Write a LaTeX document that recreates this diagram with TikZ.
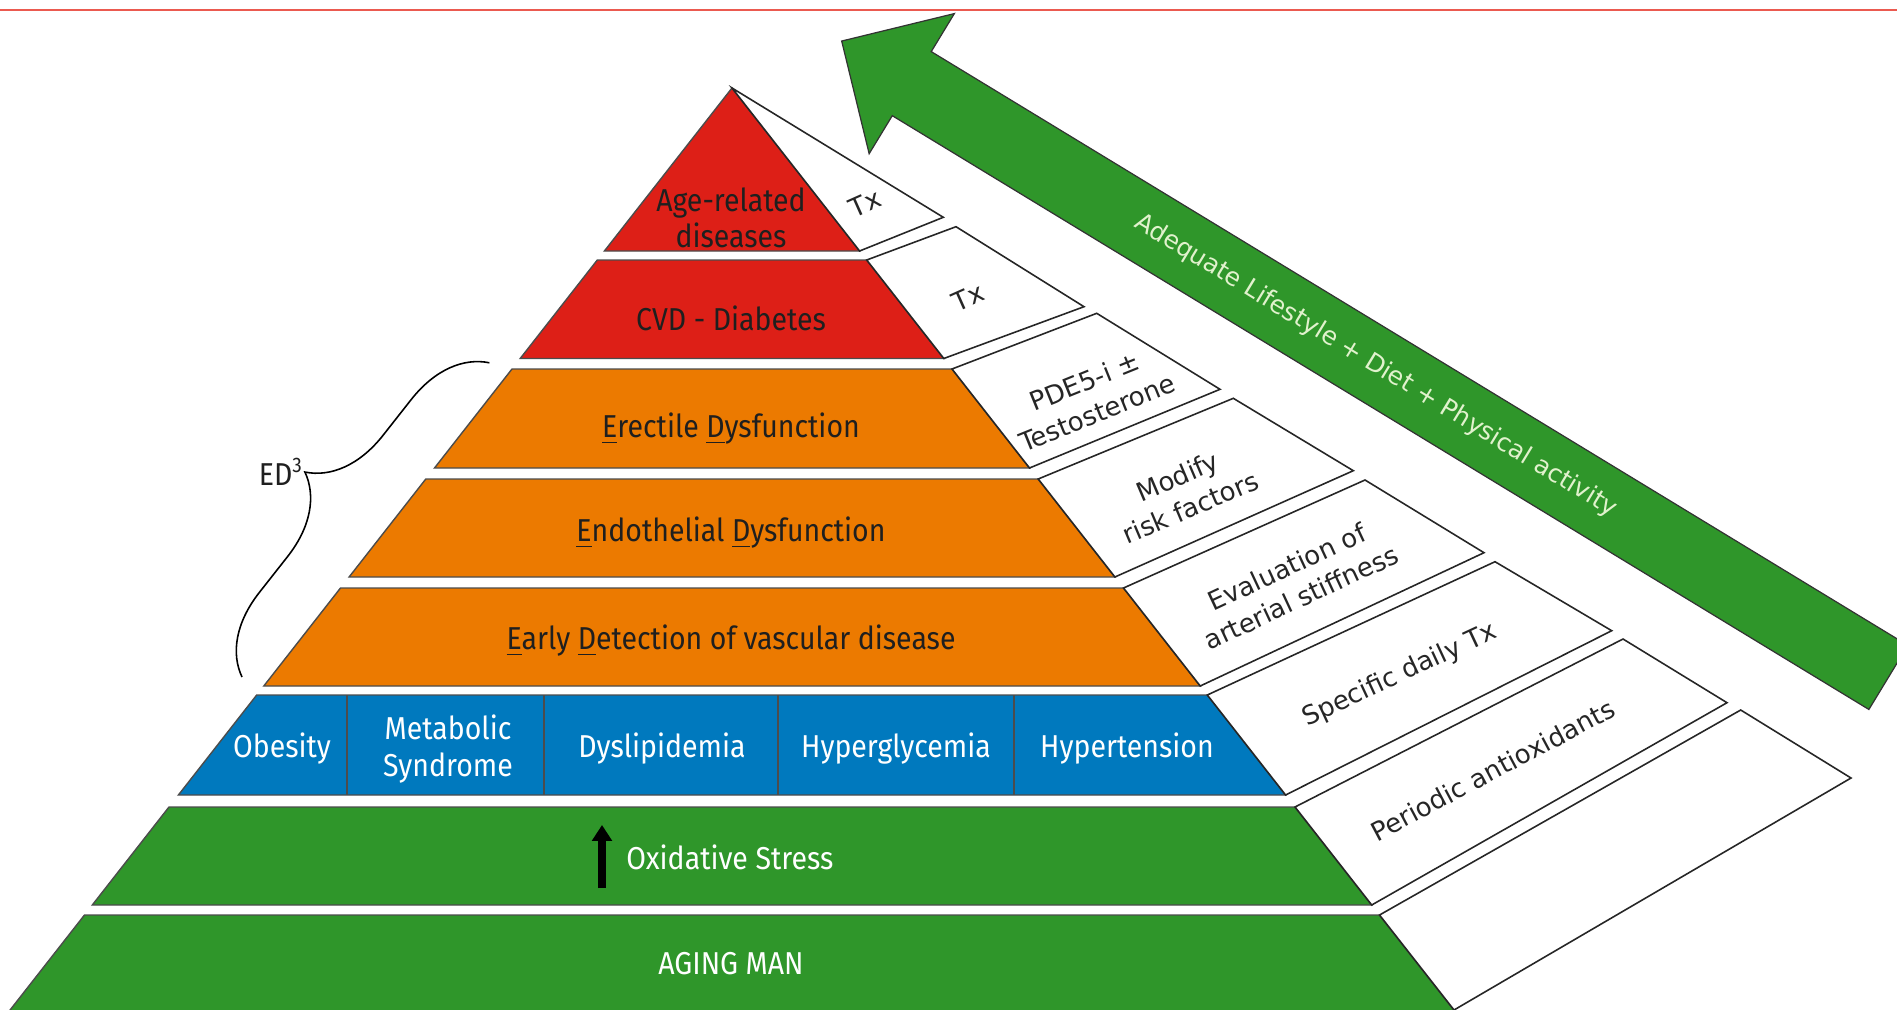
\documentclass[tikz,border=0pt]{standalone}
\usepackage{fontspec}
\usepackage{tikz}
\usetikzlibrary{arrows.meta}
\usetikzlibrary{decorations.pathreplacing}
\setmainfont{DejaVu Sans}
\newfontfamily\tierfont[FakeStretch=0.9]{Fira Sans}
\definecolor{pyrred}{RGB}{221,31,23}
\definecolor{pyrorange}{RGB}{236,122,0}
\definecolor{pyrblue}{RGB}{0,121,190}
\definecolor{pyrgreen}{RGB}{47,150,42}
\definecolor{topline}{RGB}{235,90,80}
\definecolor{lifetext}{RGB}{225,242,205}

\begin{document}
\begin{tikzpicture}[x=0.01cm, y=-0.01cm,
  tier/.style={draw=black!70, line width=0.4pt},
  strip/.style={draw=black!85, fill=white, line width=0.45pt},
  tiertext/.style={font=\tierfont\fontsize{9}{10.3}\selectfont, text=black!88, align=center},
  striptext/.style={font=\fontsize{7.4}{9.6}\selectfont, text=black!85, align=center}]
\useasboundingbox (0,0) rectangle (1897,1009);
\clip (0,0) rectangle (1897,1009);
\draw[topline, line width=0.5pt] (0,10) -- (1897,10);

\filldraw[tier, fill=pyrred] (732,88) -- (859.6,251) -- (604.4,251) -- cycle;
\filldraw[tier, fill=pyrred] (597.3,260) -- (866.7,260) -- (943.8,358.5) -- (520.2,358.5) -- cycle;
\filldraw[tier, fill=pyrorange] (512,369) -- (952,369) -- (1029.5,468) -- (434.5,468) -- cycle;
\filldraw[tier, fill=pyrorange] (425.8,479) -- (1038.2,479) -- (1114.9,577) -- (349.1,577) -- cycle;
\filldraw[tier, fill=pyrorange] (340.5,588) -- (1123.5,588) -- (1200.2,686) -- (263.8,686) -- cycle;
\filldraw[tier, fill=pyrblue] (256.7,695) -- (1207.3,695) -- (1285.6,795) -- (178.4,795) -- cycle;
\filldraw[tier, fill=pyrgreen] (169,807) -- (1295,807) -- (1371.7,905) -- (92.3,905) -- cycle;
\filldraw[tier, fill=pyrgreen] (84.5,915) -- (1379.5,915) -- (1469.6,1030) -- (-5.6,1030) -- cycle;
\foreach \xd in {347,544,778,1014}
  \draw[tier] (\xd,695) -- (\xd,795);

\filldraw[strip] (732,88) -- (943.3,217.3) -- (859.6,251) -- cycle;
\filldraw[strip] (866.7,260) -- (956,226.7) -- (1084,306.7) -- (943.8,358.5) -- cycle;
\filldraw[strip] (952,369) -- (1096.7,313.3) -- (1220,389.3) -- (1029.5,468) -- cycle;
\filldraw[strip] (1038.2,479) -- (1233.3,398.3) -- (1353.3,470.7) -- (1114.9,577) -- cycle;
\filldraw[strip] (1123.5,588) -- (1365,480) -- (1484,552.7) -- (1200.2,686) -- cycle;
\filldraw[strip] (1207.3,695) -- (1495,561.7) -- (1611.7,630.7) -- (1285.6,795) -- cycle;
\filldraw[strip] (1295,807) -- (1623,639) -- (1727,702.7) -- (1371.7,905) -- cycle;
\filldraw[strip] (1379.5,915) -- (1740.7,710) -- (1851,778) -- (1454,1010) -- cycle;

\begin{scope}[shift={(1550,471.7)}, rotate=-31.3]
\filldraw[draw=black!80, line width=0.35pt, fill=pyrgreen] (396,37.5) -- (-747,37.5) -- (-747,82) -- (-829,0) -- (-747,-82) -- (-747,-37.5) -- (396,-37.5) -- cycle;
\node[striptext, font=\fontsize{7.1}{9}\selectfont, text=lifetext, rotate=-31.3] (lifestyle) at (-204,0) {Adequate Lifestyle + Diet + Physical activity};
\end{scope}

\node[tiertext] (age) at (731,218) {Age-related\\diseases};
\node[tiertext] (cvd) at (731,318) {CVD - Diabetes};
\node[tiertext] (erect) at (731,429) {\underline{E}rectile \underline{D}ysfunction};
\node[tiertext] (endo) at (731,533) {\underline{E}ndothelial \underline{D}ysfunction};
\node[tiertext] (early) at (731,641) {\underline{E}arly \underline{D}etection of vascular disease};
\node[tiertext, text=white] (obes) at (282,749) {Obesity};
\node[tiertext, text=white] (metab) at (448,749) {Metabolic\\Syndrome};
\node[tiertext, text=white] (dysl) at (662,749) {Dyslipidemia};
\node[tiertext, text=white] (hglyc) at (896,749) {Hyperglycemia};
\node[tiertext, text=white] (htens) at (1127,749) {Hypertension};
\node[tiertext, text=white, anchor=west] (oxid) at (614,857) {Oxidative Stress};
\node[tiertext, text=white] (aging) at (731,964) {AGING MAN};

\coordinate (oxlo) at (602,888);
\coordinate (oxhi) at (602,825);
\draw[line width=2pt, -{Triangle[width=5.5pt,length=4.5pt]}] (oxlo) -- (oxhi);

\node[striptext, rotate=24] (tx1) at (865,203) {Tx};
\node[striptext, rotate=24] (tx2) at (968,297) {Tx};
\node[striptext, rotate=22] (pde) at (1091,397) {PDE5-i ±\\Testosterone};
\node[striptext, rotate=23] (modify) at (1184,492) {Modify\\risk factors};
\node[striptext, rotate=25] (evalu) at (1294,582) {Evaluation of\\arterial stiffness};
\node[striptext, rotate=25] (daily) at (1400,675) {Specific daily Tx};
\node[striptext, rotate=28] (antiox) at (1493,770) {Periodic antioxidants};

\coordinate (edbot) at (242,677);
\coordinate (edtop) at (490,362);
\draw[line width=0.45pt, decorate, decoration={brace, amplitude=22pt, aspect=0.5}] (edbot) -- (edtop);
\node[tiertext, anchor=east] (ed3) at (316,472) {ED\textsuperscript{3}};
\end{tikzpicture}
\end{document}
